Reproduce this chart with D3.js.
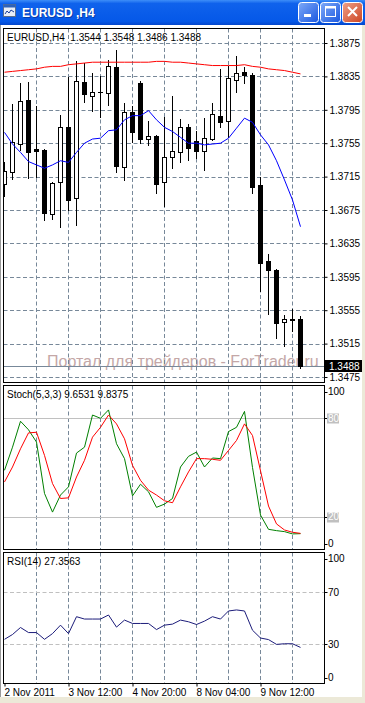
<!DOCTYPE html>
<html>
<head>
<meta charset="utf-8">
<script src="https://cdn.jsdelivr.net/npm/d3@7"></script>
<style>
  body { margin: 0; background: #fff; overflow: hidden; }
  svg { display: block; font-family: "Liberation Sans", Arial, sans-serif; }
  text { white-space: pre; }
</style>
</head>
<body>
<div id="chart"></div>
<script>
var W = 365, H = 703;

// EURUSD H4 bars, oldest first
var opens  = [1.3706, 1.3720, 1.3754, 1.3807, 1.3748, 1.3747, 1.3670, 1.3708, 1.3774, 1.3689, 1.3828, 1.3812, 1.3816, 1.3815, 1.3846, 1.3727, 1.3792, 1.3827, 1.3760, 1.3764, 1.3708, 1.3739, 1.3744, 1.3775, 1.3758, 1.3746, 1.3760, 1.3788, 1.3781, 1.3831, 1.3840, 1.3837, 1.3705, 1.3614, 1.3603, 1.3541, 1.3544, 1.3544];
var highs  = [1.3732, 1.3802, 1.3827, 1.3828, 1.3799, 1.3748, 1.3709, 1.3789, 1.3834, 1.3853, 1.3851, 1.3839, 1.3835, 1.3855, 1.3867, 1.3803, 1.3800, 1.3830, 1.3782, 1.3765, 1.3786, 1.3811, 1.3784, 1.3778, 1.3770, 1.3785, 1.3803, 1.3844, 1.3847, 1.3859, 1.3846, 1.3839, 1.3714, 1.3622, 1.3604, 1.3549, 1.3557, 1.3548];
var lows   = [1.3692, 1.3712, 1.3747, 1.3713, 1.3715, 1.3663, 1.3664, 1.3655, 1.3675, 1.3657, 1.3804, 1.3793, 1.3786, 1.3801, 1.3721, 1.3711, 1.3757, 1.3755, 1.3753, 1.3695, 1.3680, 1.3725, 1.3733, 1.3735, 1.3737, 1.3723, 1.3759, 1.3774, 1.3762, 1.3816, 1.3827, 1.3695, 1.3578, 1.3550, 1.3522, 1.3512, 1.3530, 1.3486];
var closes = [1.3722, 1.3756, 1.3806, 1.3745, 1.3746, 1.3671, 1.3707, 1.3774, 1.3687, 1.3829, 1.3814, 1.3816, 1.3816, 1.3847, 1.3728, 1.3792, 1.3769, 1.3760, 1.3764, 1.3706, 1.3738, 1.3746, 1.3774, 1.3749, 1.3746, 1.3761, 1.3790, 1.3780, 1.3833, 1.3839, 1.3837, 1.3703, 1.3612, 1.3603, 1.3540, 1.3545, 1.3543, 1.3488];

// moving averages (red slow, blue fast)
var maSlow = [1.3840, 1.3841, 1.3842, 1.3843, 1.3844, 1.3846, 1.3847, 1.3847, 1.3849, 1.3850, 1.3851, 1.3852, 1.3852, 1.3852, 1.3852, 1.3852, 1.3852, 1.3852, 1.3852, 1.3853, 1.3853, 1.3852, 1.3852, 1.3851, 1.3850, 1.3849, 1.3848, 1.3848, 1.3848, 1.3848, 1.3849, 1.3847, 1.3846, 1.3844, 1.3843, 1.3842, 1.3840, 1.3838];
var maFast = [1.3768, 1.3754, 1.3744, 1.3733, 1.3729, 1.3725, 1.3729, 1.3734, 1.3732, 1.3744, 1.3755, 1.3760, 1.3761, 1.3770, 1.3771, 1.3783, 1.3788, 1.3788, 1.3794, 1.3783, 1.3774, 1.3769, 1.3762, 1.3755, 1.3755, 1.3753, 1.3754, 1.3755, 1.3761, 1.3773, 1.3785, 1.3780, 1.3765, 1.3753, 1.3734, 1.3711, 1.3687, 1.3655];

// Stochastic(5,3,3)
var stochMain   = [48.3, 62.4, 78.2, 73.0, 65.5, 34.2, 22.8, 33.2, 38.2, 58.8, 62.4, 82.0, 80.0, 85.1, 64.5, 55.4, 32.7, 39.8, 35.2, 25.7, 27.7, 31.1, 50.3, 56.8, 59.4, 50.3, 55.8, 55.4, 71.9, 74.5, 84.2, 50.0, 21.0, 12.3, 11.5, 10.9, 9.5, 9.6531];
var stochSignal = [41.2, 50.3, 61.4, 71.1, 71.5, 57.4, 40.2, 31.1, 31.5, 44.2, 54.4, 68.5, 74.5, 82.0, 76.6, 67.5, 51.3, 42.2, 36.2, 33.2, 29.7, 28.5, 38.2, 47.3, 55.4, 55.4, 55.0, 54.4, 60.4, 66.5, 76.6, 69.5, 48.0, 26.5, 15.6, 11.9, 10.5, 9.8375];
var stochLevels = [80, 20];

// RSI(14)
var rsi = [33.6, 37.3, 42.7, 38.8, 38.8, 33.6, 38.0, 44.5, 38.0, 51.0, 49.2, 49.2, 49.2, 52.3, 43.0, 48.4, 45.8, 45.8, 45.8, 41.1, 44.5, 45.3, 48.4, 47.1, 45.0, 47.6, 51.0, 49.2, 55.4, 56.2, 55.4, 40.6, 34.6, 33.4, 29.7, 30.2, 30.2, 27.3563];
var rsiLevels = [70, 30];

var priceTicks = [1.3475, 1.3515, 1.3555, 1.3595, 1.3635, 1.3675, 1.3715, 1.3755, 1.3795, 1.3835, 1.3875];
var timeTickBars = [0, 8, 16, 24, 32];
var timeTickLabels = ["2 Nov 2011", "3 Nov 12:00", "4 Nov 20:00", "8 Nov 04:00", "9 Nov 12:00"];
var gridBars = [4, 8, 12, 16, 20, 24, 28, 32, 36];

var left = 3.5, right = 324.5;
var pMain  = {top: 28.5,  bottom: 382.5};
var pStoch = {top: 385.5, bottom: 549.5};
var pRsi   = {top: 552.5, bottom: 683.5};
var gridColor = "#778899";
var n = opens.length;

var svg = d3.select("#chart").append("svg")
  .attr("width", W)
  .attr("height", H);

var defs = svg.append("defs");

// window frame
svg.append("rect").attr("width", W).attr("height", H).attr("fill", "#ECE9D8");
svg.append("rect").attr("x", 1).attr("y", 25).attr("width", 361).attr("height", 672).attr("fill", "#fff");
svg.append("line").attr("x1", 0.5).attr("x2", 0.5).attr("y1", 25).attr("y2", 697).attr("stroke", "#999");

// title bar
var tb = defs.append("linearGradient").attr("id", "tb").attr("x1", 0).attr("y1", 0).attr("x2", 0).attr("y2", 1);
tb.append("stop").attr("offset", "0%").attr("stop-color", "#3D8EF8");
tb.append("stop").attr("offset", "14%").attr("stop-color", "#0F62EC");
tb.append("stop").attr("offset", "85%").attr("stop-color", "#0558E8");
tb.append("stop").attr("offset", "100%").attr("stop-color", "#0346CC");
svg.append("rect").attr("width", W).attr("height", 25).attr("fill", "url(#tb)");

// little chart icon
var icon = svg.append("g").attr("transform", "translate(3,4)");
icon.append("rect").attr("x", 0.5).attr("y", 0.5).attr("width", 12).attr("height", 12).attr("fill", "#E8EEF8").attr("stroke", "#5B6E8C");
icon.append("rect").attr("x", 0.5).attr("y", 0.5).attr("width", 12).attr("height", 3).attr("fill", "#2E62B8");
icon.append("path").attr("d", "M2,10 L4,7 L6,9 L8,6 L11,8").attr("fill", "none").attr("stroke", "#1A3F9A").attr("stroke-width", 1);

svg.append("text").attr("x", 23).attr("y", 18)
  .attr("fill", "#0A2A80").attr("font-size", 12).attr("font-weight", "bold")
  .attr("opacity", 0.6).text("EURUSD ,H4");
svg.append("text").attr("x", 22).attr("y", 17)
  .attr("fill", "#fff").attr("font-size", 12).attr("font-weight", "bold")
  .text("EURUSD ,H4");

var bb = defs.append("linearGradient").attr("id", "bb").attr("x1", 0).attr("y1", 0).attr("x2", 1).attr("y2", 1);
bb.append("stop").attr("offset", "0%").attr("stop-color", "#7FAAF8");
bb.append("stop").attr("offset", "100%").attr("stop-color", "#1957E0");
var br = defs.append("linearGradient").attr("id", "br").attr("x1", 0).attr("y1", 0).attr("x2", 1).attr("y2", 1);
br.append("stop").attr("offset", "0%").attr("stop-color", "#F0A088");
br.append("stop").attr("offset", "100%").attr("stop-color", "#CC4422");

[298, 320, 342].forEach(function(bx, k) {
  svg.append("rect").attr("x", bx + 0.5).attr("y", 2.5).attr("width", 20).attr("height", 20).attr("rx", 3)
    .attr("fill", k == 2 ? "url(#br)" : "url(#bb)").attr("stroke", "#fff");
  if (k == 0) {
    svg.append("rect").attr("x", bx + 6).attr("y", 14).attr("width", 7).attr("height", 3).attr("fill", "#fff");
  } else if (k == 1) {
    svg.append("rect").attr("x", bx + 5.5).attr("y", 6.5).attr("width", 10).attr("height", 10).attr("fill", "none").attr("stroke", "#fff");
    svg.append("rect").attr("x", bx + 5.5).attr("y", 6.5).attr("width", 10).attr("height", 2).attr("fill", "#fff");
  } else {
    svg.append("path").attr("d", "M" + (bx + 6) + ",7 L" + (bx + 15) + ",16 M" + (bx + 15) + ",7 L" + (bx + 6) + ",16")
      .attr("stroke", "#fff").attr("stroke-width", 2);
  }
});

// scales
var x = d3.scaleLinear().domain([0, n - 1]).range([4.5, 4.5 + 8 * (n - 1)]);
var y = d3.scaleLinear().domain([1.3475, 1.3875]).range([377, 43]);
var ys = d3.scaleLinear().domain([0, 100]).range([pStoch.bottom, pStoch.top]);
var yr = d3.scaleLinear().domain([0, 100]).range([683, 553]);

function clip(id, p) {
  defs.append("clipPath").attr("id", id).append("rect")
    .attr("x", left + 0.5).attr("y", p.top + 0.5)
    .attr("width", right - left - 1).attr("height", p.bottom - p.top - 1);
}
clip("cMain", pMain); clip("cStoch", pStoch); clip("cRsi", pRsi);

function vgrid(g, p) {
  g.selectAll("line.vg").data(gridBars).enter().append("line")
    .attr("class", "vg")
    .attr("x1", function(d) { return x(d); }).attr("x2", function(d) { return x(d); })
    .attr("y1", p.top).attr("y2", p.bottom)
    .attr("stroke", gridColor).attr("stroke-dasharray", "4,2.5");
}

// watermark runs past the plot edge, under the price scale
svg.append("text").attr("x", 47).attr("y", 366.5)
  .attr("font-size", 16).attr("fill", "#C4A7A7")
  .text("Портал для трейдеров - ForTrader.ru");

// ---------- main panel ----------
var gm = svg.append("g").attr("clip-path", "url(#cMain)");
vgrid(gm, pMain);
gm.selectAll("line.hg").data(priceTicks).enter().append("line")
  .attr("x1", left).attr("x2", right)
  .attr("y1", function(d) { return Math.round(y(d)) + 0.5; })
  .attr("y2", function(d) { return Math.round(y(d)) + 0.5; })
  .attr("stroke", gridColor).attr("stroke-dasharray", "4,2.5");

var lastY = Math.round(y(closes[n - 1])) + 0.5;
gm.append("line").attr("x1", left).attr("x2", right).attr("y1", lastY).attr("y2", lastY)
  .attr("stroke", gridColor);

var bars = d3.range(n).map(function(i) {
  return {i: i, o: opens[i], h: highs[i], l: lows[i], c: closes[i]};
});

gm.selectAll("line.wick").data(bars).enter().append("line")
  .attr("x1", function(d) { return x(d.i); }).attr("x2", function(d) { return x(d.i); })
  .attr("y1", function(d) { return Math.round(y(d.h)); })
  .attr("y2", function(d) { return Math.round(y(d.l)) + 1; })
  .attr("stroke", "#000");

gm.selectAll("rect.body").data(bars).enter().append("rect")
  .attr("x", function(d) { return d.c > d.o ? x(d.i) - 2 : x(d.i) - 2.5; })
  .attr("y", function(d) {
    var t = Math.round(y(Math.max(d.o, d.c)));
    return d.c > d.o ? t + 0.5 : t;
  })
  .attr("width", function(d) { return d.c > d.o ? 4 : 5; })
  .attr("height", function(d) {
    var t = Math.round(y(Math.max(d.o, d.c))), b = Math.round(y(Math.min(d.o, d.c)));
    return d.c > d.o ? Math.max(1, b - t) : Math.max(1, b - t + 1);
  })
  .attr("fill", function(d) { return d.c > d.o ? "#fff" : "#000"; })
  .attr("stroke", function(d) { return d.c > d.o ? "#000" : "none"; });

var lineMain = d3.line().x(function(d, i) { return x(i); }).y(function(d) { return y(d); });
gm.append("path").datum(maSlow).attr("d", lineMain).attr("fill", "none").attr("stroke", "#FF0000");
gm.append("path").datum(maFast).attr("d", lineMain).attr("fill", "none").attr("stroke", "#0000FF");

var f4 = d3.format(".4f");
svg.append("text").attr("x", 7).attr("y", 41).attr("font-size", 10)
  .text("EURUSD,H4  " + [opens[n - 1], highs[n - 1], lows[n - 1], closes[n - 1]].map(f4).join(" "));

var axP = svg.append("g").attr("transform", "translate(" + right + ",0)")
  .call(d3.axisRight(y).tickValues(priceTicks).tickFormat(f4).tickSize(3).tickPadding(2));
axP.select(".domain").remove();
axP.selectAll("text").attr("font-size", 10).attr("font-family", "Liberation Sans, Arial, sans-serif").attr("fill", "#000");

// last price tag
svg.append("rect").attr("x", 325).attr("y", lastY - 6.5).attr("width", 37).attr("height", 12).attr("fill", "#000");
svg.append("text").attr("x", 329).attr("y", lastY).attr("dy", "0.35em").attr("font-size", 10)
  .attr("fill", "#fff").text(f4(closes[n - 1]));

// ---------- stochastic panel ----------
var gs = svg.append("g").attr("clip-path", "url(#cStoch)");
vgrid(gs, pStoch);
gs.selectAll("line.lv").data(stochLevels).enter().append("line")
  .attr("x1", left).attr("x2", right)
  .attr("y1", function(d) { return Math.round(ys(d)) + 0.5; })
  .attr("y2", function(d) { return Math.round(ys(d)) + 0.5; })
  .attr("stroke", "#C0C0C0");
var lineS = d3.line().x(function(d, i) { return x(i); }).y(function(d) { return ys(d); });
gs.append("path").datum(stochMain).attr("d", lineS).attr("fill", "none").attr("stroke", "#008000");
gs.append("path").datum(stochSignal).attr("d", lineS).attr("fill", "none").attr("stroke", "#FF0000");

svg.append("text").attr("x", 7).attr("y", 398).attr("font-size", 10)
  .text("Stoch(5,3,3) " + f4(stochMain[n - 1]) + " " + f4(stochSignal[n - 1]));

// ---------- RSI panel ----------
var gr = svg.append("g").attr("clip-path", "url(#cRsi)");
vgrid(gr, pRsi);
gr.selectAll("line.lv").data(rsiLevels).enter().append("line")
  .attr("x1", left).attr("x2", right)
  .attr("y1", function(d) { return Math.round(yr(d)) + 0.5; })
  .attr("y2", function(d) { return Math.round(yr(d)) + 0.5; })
  .attr("stroke", "#C0C0C0").attr("stroke-dasharray", "4,2.5");
var lineR = d3.line().x(function(d, i) { return x(i); }).y(function(d) { return yr(d); });
gr.append("path").datum(rsi).attr("d", lineR).attr("fill", "none").attr("stroke", "#1C1C7A");

svg.append("text").attr("x", 7).attr("y", 565).attr("font-size", 10)
  .text("RSI(14) " + f4(rsi[n - 1]));

// subwindow scales (0/100 labels held inside the panel)
function sideLabels(vals, sc, p, boxed) {
  vals.forEach(function(v) {
    var cy = Math.min(Math.max(sc(v), p.top + 6), p.bottom - 6);
    svg.append("line").attr("x1", right).attr("x2", right + 3)
      .attr("y1", Math.round(cy) + 0.5).attr("y2", Math.round(cy) + 0.5).attr("stroke", "#000");
    if (boxed.indexOf(v) >= 0) {
      svg.append("rect").attr("x", 327).attr("y", Math.round(cy) - 4.5).attr("width", 12).attr("height", 10).attr("fill", "#C0C0C0");
    }
    svg.append("text").attr("x", 328).attr("y", cy).attr("dy", "0.35em").attr("font-size", 10)
      .attr("fill", boxed.indexOf(v) >= 0 ? "#fff" : "#000").text(v);
  });
}
sideLabels([100, 80, 20, 0], ys, pStoch, stochLevels);
sideLabels([100, 70, 30, 0], yr, pRsi, []);

// time axis
var axT = svg.append("g").attr("transform", "translate(0," + pRsi.bottom + ")")
  .call(d3.axisBottom(x).tickValues(timeTickBars)
    .tickFormat(function(d, i) { return timeTickLabels[i]; })
    .tickSize(3).tickPadding(2.5));
axT.select(".domain").remove();
axT.selectAll("text").attr("font-size", 10).attr("font-family", "Liberation Sans, Arial, sans-serif")
  .attr("fill", "#000").attr("text-anchor", "start").attr("dx", "-0.5");

// panel frames
[pMain, pStoch, pRsi].forEach(function(p) {
  svg.append("rect").attr("x", left).attr("y", p.top)
    .attr("width", right - left).attr("height", p.bottom - p.top)
    .attr("fill", "none").attr("stroke", "#000");
});
</script>
</body>
</html>
